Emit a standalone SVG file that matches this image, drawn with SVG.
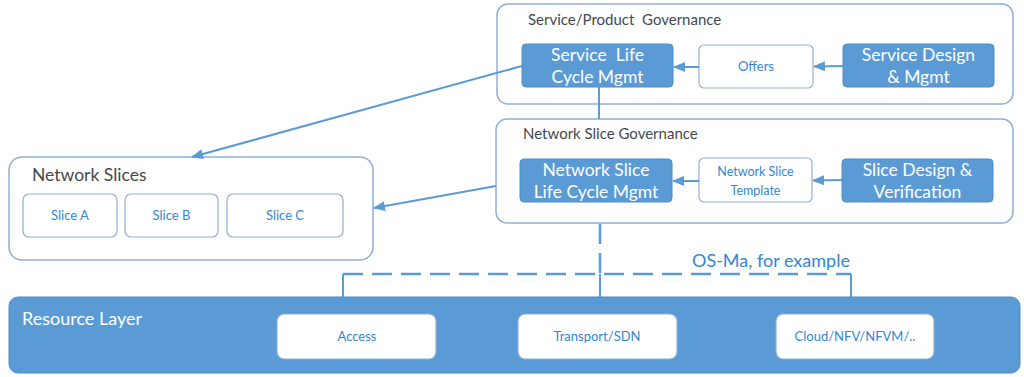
<svg xmlns="http://www.w3.org/2000/svg" width="1024" height="377" viewBox="0 0 1024 377">
<defs>
<style>
.outer{fill:#fff;stroke:#8fb0d6;stroke-width:1.5}
.blue{fill:#5b9bd5;stroke:#4f8cc6;stroke-width:1}
.white{fill:#fff;stroke:#8fb0d6;stroke-width:1.2}
.wt{fill:#fff;font-family:Lato,"Liberation Sans",sans-serif;text-anchor:middle}
.bt{fill:#3386d6;font-family:Lato,"Liberation Sans",sans-serif;text-anchor:middle}
.tt{fill:#44494f;font-family:Lato,"Liberation Sans",sans-serif}
.conn{stroke:#5b9bd5;stroke-width:2;fill:none}
.dash{stroke:#5b9bd5;stroke-width:2.5;fill:none;stroke-dasharray:20 9}
text{white-space:pre}
</style>
<marker id="ah" markerWidth="12" markerHeight="10" refX="11" refY="5" orient="auto" markerUnits="userSpaceOnUse">
<path d="M0,0 L12,5 L0,10 Z" fill="#5b9bd5"/>
</marker>
</defs>
<rect width="1024" height="377" fill="#fff"/>

<g id="resource-layer">
<rect x="9" y="297" width="1011" height="76" rx="9" fill="#5b9bd5" stroke="#5089c2" stroke-width="1"/>
<text x="22" y="325" class="wt" style="text-anchor:start" font-size="18">Resource Layer</text>
</g>
<g id="access"><rect x="277" y="314" width="159" height="45" rx="7" class="white"/><text x="357" y="341" class="bt" font-size="13">Access</text></g>
<g id="transport"><rect x="518" y="314" width="159" height="45" rx="7" class="white"/><text x="597" y="341" class="bt" font-size="13">Transport/SDN</text></g>
<g id="cloud"><rect x="776" y="314" width="158" height="45" rx="7" class="white"/><text x="855" y="341" class="bt" font-size="13">Cloud/NFV/NFVM/..</text></g>

<g id="service-governance">
<rect x="497" y="4" width="516" height="100" rx="11" class="outer"/>
<text x="528" y="25" class="tt" font-size="15" xml:space="preserve">Service/Product  Governance</text>
</g>
<g id="service-lcm"><rect x="522" y="44" width="151" height="43" rx="4" class="blue"/>
<text class="wt" font-size="17.5" xml:space="preserve"><tspan x="597.5" y="61">Service  Life</tspan><tspan x="597.5" y="83">Cycle Mgmt</tspan></text></g>
<g id="offers"><rect x="699" y="45" width="114" height="43" rx="5" class="white"/><text x="756" y="71" class="bt" font-size="13">Offers</text></g>
<g id="service-design"><rect x="843" y="44" width="151" height="43" rx="4" class="blue"/>
<text class="wt" font-size="17.5"><tspan x="918.5" y="61">Service Design</tspan><tspan x="918.5" y="83">&amp; Mgmt</tspan></text></g>

<g id="slice-governance">
<rect x="496" y="119" width="517" height="104" rx="11" class="outer"/>
<text x="523" y="139" class="tt" font-size="15">Network Slice Governance</text>
</g>
<g id="slice-lcm"><rect x="520" y="159" width="152" height="43" rx="4" class="blue"/>
<text class="wt" font-size="17.5"><tspan x="596" y="176">Network Slice</tspan><tspan x="596" y="198">Life Cycle Mgmt</tspan></text></g>
<g id="slice-template"><rect x="699" y="158" width="113" height="44" rx="5" class="white"/>
<text class="bt" font-size="12.5"><tspan x="755.5" y="176">Network Slice</tspan><tspan x="755.5" y="195">Template</tspan></text></g>
<g id="slice-design"><rect x="842" y="159" width="151" height="43" rx="4" class="blue"/>
<text class="wt" font-size="17.5"><tspan x="917.5" y="176">Slice Design &amp;</tspan><tspan x="917.5" y="198">Verification</tspan></text></g>

<g id="network-slices">
<rect x="9" y="157" width="364" height="103" rx="13" class="outer"/>
<text x="32" y="181" class="tt" font-size="17.5">Network Slices</text>
</g>
<g id="slice-a"><rect x="23" y="194" width="94" height="43" rx="6" class="white"/><text x="70" y="220" class="bt" font-size="13">Slice A</text></g>
<g id="slice-b"><rect x="125" y="194" width="93" height="43" rx="6" class="white"/><text x="171.5" y="220" class="bt" font-size="13">Slice B</text></g>
<g id="slice-c"><rect x="227" y="194" width="116" height="43" rx="6" class="white"/><text x="285" y="220" class="bt" font-size="13">Slice C</text></g>

<g id="connectors">
<line x1="699" y1="67" x2="674" y2="67" class="conn" marker-end="url(#ah)"/>
<line x1="843" y1="66" x2="814" y2="66.5" class="conn" marker-end="url(#ah)"/>
<line x1="699" y1="181" x2="673" y2="181" class="conn" marker-end="url(#ah)"/>
<line x1="842" y1="180" x2="813" y2="180.5" class="conn" marker-end="url(#ah)"/>
<line x1="522" y1="66" x2="192" y2="157" class="conn" marker-end="url(#ah)"/>
<line x1="496" y1="186" x2="374" y2="208" class="conn" marker-end="url(#ah)"/>
<line x1="599" y1="87" x2="599" y2="119" class="conn"/>
<line x1="600" y1="224" x2="600" y2="274" class="dash"/>
<line x1="600" y1="274" x2="600" y2="297" class="conn"/>
<line x1="343" y1="274" x2="851" y2="274" class="dash"/>
<line x1="343" y1="274" x2="343" y2="297" class="conn"/>
<line x1="851" y1="274" x2="851" y2="297" class="conn"/>
<text x="692" y="267" class="bt" style="text-anchor:start" font-size="18">OS-Ma, for example</text>
</g>
</svg>
